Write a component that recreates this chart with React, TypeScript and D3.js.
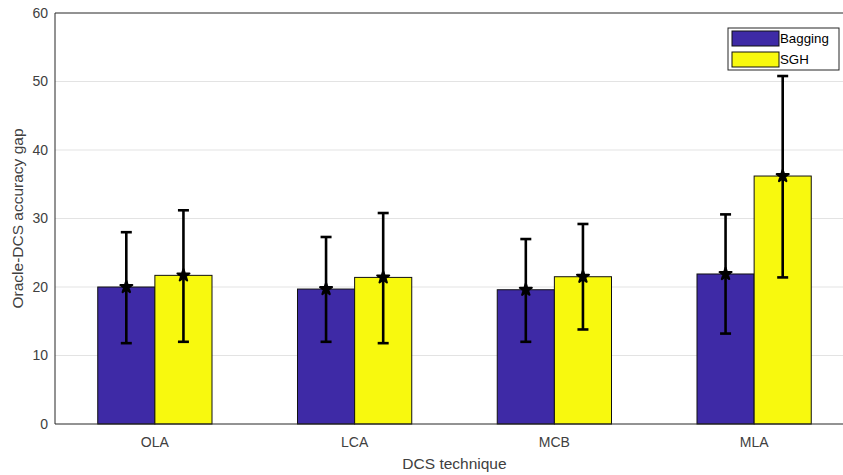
import * as d3 from "d3";

const categories = ["OLA", "LCA", "MCB", "MLA"];
const seriesNames = ["Bagging", "SGH"];
const baggingMean = [20.0, 19.7, 19.6, 21.9];
const baggingLow = [11.8, 12.0, 12.0, 13.2];
const baggingHigh = [28.0, 27.3, 27.0, 30.6];
const sghMean = [21.7, 21.4, 21.5, 36.2];
const sghLow = [12.0, 11.8, 13.8, 21.4];
const sghHigh = [31.2, 30.8, 29.2, 50.8];
const yTicks = [0, 10, 20, 30, 40, 50, 60];

const colors = ["#3e2aa6", "#f8f90e"];

export default function App() {
  const width = 843;
  const height = 475;
  const left = 55;
  const right = 854; // plot box runs past the window edge
  const top = 13;
  const bottom = 424;

  const x = d3.scaleLinear().domain([0.5, 4.5]).range([left, right]);
  const y = d3.scaleLinear().domain([0, 60]).range([bottom, top]);

  const barW = x(1.286) - x(1); // each bar ~0.286 of a category
  const series = [
    { mean: baggingMean, low: baggingLow, high: baggingHigh },
    { mean: sghMean, low: sghLow, high: sghHigh },
  ];
  // compact filled blob like matlab's thick hexagram marker
  const star = d3.symbol().type(d3.symbolStar).size(45)();
  const font = "'Liberation Sans', Arial, sans-serif";

  return (
    <svg
      width={width}
      height={height}
      style={{ position: "absolute", left: 0, top: 0, display: "block", background: "#fff" }}
      fontFamily={font}
    >
      {/* grid */}
      {yTicks.slice(1, -1).map((t) => (
        <line key={t} x1={left} x2={right} y1={y(t)} y2={y(t)} stroke="#e3e3e3" strokeWidth={1} />
      ))}

      {/* bars */}
      {series.map((s, si) =>
        categories.map((c, i) => {
          const x0 = x(i + 1) + (si - 1) * barW;
          return (
            <rect
              key={c + si}
              x={x0}
              y={y(s.mean[i])}
              width={barW}
              height={y(0) - y(s.mean[i])}
              fill={colors[si]}
              stroke="#111"
              strokeWidth={1}
            />
          );
        })
      )}

      {/* error bars */}
      {series.map((s, si) =>
        categories.map((c, i) => {
          const cx = x(i + 1) + (si - 0.5) * barW;
          return (
            <g key={"e" + c + si} stroke="#000" strokeWidth={2.6}>
              <line x1={cx} x2={cx} y1={y(s.low[i])} y2={y(s.high[i])} />
              <line x1={cx - 5.5} x2={cx + 5.5} y1={y(s.low[i])} y2={y(s.low[i])} />
              <line x1={cx - 5.5} x2={cx + 5.5} y1={y(s.high[i])} y2={y(s.high[i])} />
              <path d={star} transform={`translate(${cx},${y(s.mean[i])})`} fill="#000" strokeWidth={2} strokeLinejoin="round" />
            </g>
          );
        })
      )}

      {/* axes box */}
      <line x1={left} x2={left} y1={top} y2={bottom} stroke="#262626" />
      <line x1={left} x2={right} y1={bottom} y2={bottom} stroke="#262626" />
      <line x1={left} x2={right} y1={top} y2={top} stroke="#262626" />

      {yTicks.map((t) => (
        <text key={t} x={left - 7} y={y(t)} dy="0.35em" textAnchor="end" fontSize={14} fill="#404040">
          {t}
        </text>
      ))}
      {categories.map((c, i) => (
        <text key={c} x={x(i + 1)} y={bottom + 18} dy="0.35em" textAnchor="middle" fontSize={14} fill="#404040">
          {c}
        </text>
      ))}

      <text x={(left + right) / 2} y={464} dy="0.35em" textAnchor="middle" fontSize={15.5} fill="#404040">
        DCS technique
      </text>
      <text
        transform={`translate(18,${(top + bottom) / 2}) rotate(-90)`}
        dy="0.35em"
        textAnchor="middle"
        fontSize={15.5}
        fill="#404040"
      >
        Oracle-DCS accuracy gap
      </text>

      {/* legend */}
      <rect x={728} y={28} width={111} height={42} fill="#fff" stroke="#262626" strokeWidth={1} />
      {seriesNames.map((n, i) => (
        <g key={n}>
          <rect x={732} y={31 + i * 21} width={47} height={15} fill={colors[i]} stroke="#111" strokeWidth={1} />
          <text x={780} y={38.5 + i * 21} dy="0.35em" fontSize={13.3} fill="#000">
            {n}
          </text>
        </g>
      ))}
    </svg>
  );
}
